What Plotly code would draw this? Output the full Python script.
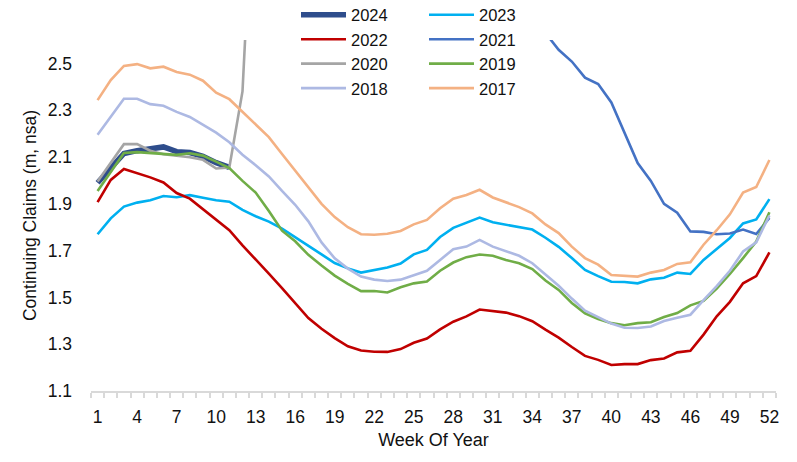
import plotly.graph_objects as go

weeks = list(range(1, 53))

claims_2024 = [1.99, 2.056, 2.115, 2.127, 2.134, 2.143, 2.123, 2.119, 2.103, 2.076, 2.056]

claims_2023 = [1.77, 1.838, 1.888, 1.905, 1.915, 1.933, 1.928, 1.937, 1.926, 1.915,
               1.909, 1.874, 1.847, 1.824, 1.794, 1.758, 1.723, 1.684, 1.647, 1.624,
               1.606, 1.616, 1.628, 1.645, 1.684, 1.703, 1.758, 1.797, 1.818, 1.841,
               1.821, 1.810, 1.801, 1.790, 1.755, 1.716, 1.668, 1.617, 1.591, 1.567,
               1.566, 1.560, 1.577, 1.584, 1.606, 1.600, 1.660, 1.706, 1.754, 1.816,
               1.833, 1.920]

claims_2022 = [1.907, 2.002, 2.049, 2.031, 2.013, 1.991, 1.946, 1.922, 1.878, 1.830,
               1.787, 1.722, 1.663, 1.602, 1.540, 1.478, 1.412, 1.366, 1.326, 1.291,
               1.273, 1.268, 1.267, 1.279, 1.306, 1.324, 1.363, 1.396, 1.419, 1.448,
               1.442, 1.435, 1.420, 1.398, 1.362, 1.328, 1.288, 1.250, 1.233, 1.211,
               1.215, 1.215, 1.232, 1.239, 1.265, 1.272, 1.341, 1.419, 1.481, 1.560,
               1.591, 1.692]

# 2021 is above the plotted range until late summer
claims_2021 = [None] * 33 + [2.72, 2.63, 2.558, 2.508, 2.439, 2.412, 2.333, 2.206,
                             2.074, 1.998, 1.900, 1.862, 1.782, 1.780, 1.770, 1.773,
                             1.790, 1.771, 1.840]

# 2020 leaves the plotted range after week 12
claims_2020 = [1.995, 2.077, 2.155, 2.155, 2.127, 2.112, 2.106, 2.099, 2.088, 2.051,
               2.055, 2.380, 3.500]

claims_2019 = [1.955, 2.034, 2.117, 2.121, 2.117, 2.112, 2.109, 2.116, 2.106, 2.080,
               2.053, 1.998, 1.948, 1.869, 1.785, 1.740, 1.682, 1.636, 1.593, 1.558,
               1.527, 1.527, 1.521, 1.543, 1.560, 1.568, 1.614, 1.649, 1.672, 1.683,
               1.678, 1.660, 1.646, 1.621, 1.572, 1.532, 1.476, 1.432, 1.408, 1.390,
               1.381, 1.390, 1.394, 1.416, 1.433, 1.466, 1.485, 1.538, 1.600, 1.668,
               1.739, 1.864]

claims_2018 = [2.195, 2.271, 2.349, 2.349, 2.326, 2.319, 2.293, 2.271, 2.238, 2.204,
               2.163, 2.110, 2.065, 2.017, 1.955, 1.896, 1.825, 1.735, 1.667, 1.623,
               1.589, 1.576, 1.570, 1.576, 1.595, 1.614, 1.660, 1.706, 1.717, 1.746,
               1.717, 1.696, 1.678, 1.646, 1.600, 1.550, 1.495, 1.443, 1.416, 1.388,
               1.370, 1.369, 1.376, 1.399, 1.413, 1.426, 1.488, 1.548, 1.614, 1.696,
               1.735, 1.850]

claims_2017 = [2.343, 2.429, 2.489, 2.497, 2.479, 2.486, 2.463, 2.452, 2.426, 2.375,
               2.347, 2.292, 2.240, 2.185, 2.113, 2.041, 1.970, 1.900, 1.843, 1.800,
               1.770, 1.768, 1.772, 1.784, 1.812, 1.831, 1.881, 1.922, 1.938, 1.960,
               1.927, 1.905, 1.886, 1.859, 1.812, 1.775, 1.717, 1.668, 1.640, 1.596,
               1.594, 1.589, 1.606, 1.617, 1.643, 1.650, 1.725, 1.787, 1.855, 1.948,
               1.972, 2.087]

y_ticks = [1.1, 1.3, 1.5, 1.7, 1.9, 2.1, 2.3, 2.5]
x_ticks = list(range(1, 53, 3))
# tick marks sit between the weekly categories
x_gap_ticks = [w - 0.5 for w in range(1, 54)]

series = [
    ("2024", claims_2024, "#2E4D8C", 5.5, "legend"),
    ("2023", claims_2023, "#00B0F0", 2.6, "legend2"),
    ("2022", claims_2022, "#C00000", 2.6, "legend"),
    ("2021", claims_2021, "#4472C4", 2.6, "legend2"),
    ("2020", claims_2020, "#A5A5A5", 2.6, "legend"),
    ("2019", claims_2019, "#70AD47", 2.6, "legend2"),
    ("2018", claims_2018, "#ADB9E3", 2.6, "legend"),
    ("2017", claims_2017, "#F4B183", 2.6, "legend2"),
]

FONT = "Liberation Sans, Arial, sans-serif"
TEXT = "#111111"

# plot area in pixels
L, R, T, B = 91, 21, 40, 71
W, H = 797, 462
PW, PH = W - L - R, H - T - B


def px_to_paper_x(px):
    return (px - L) / PW


def px_to_paper_y(py):
    return (H - B - py) / PH


fig = go.Figure()
for name, vals, color, width, leg in series:
    fig.add_trace(go.Scatter(
        x=weeks[:len(vals)], y=vals, name=name, mode="lines",
        line=dict(color=color, width=width),
        legend=leg, connectgaps=False, hoverinfo="skip",
    ))

legend_common = dict(
    orientation="v", xanchor="left", yanchor="top",
    font=dict(family=FONT, size=16.5, color=TEXT),
    bgcolor="rgba(0,0,0,0)", borderwidth=0, itemwidth=45,
    tracegroupgap=0, traceorder="normal",
)

fig.update_layout(
    width=W, height=H,
    margin=dict(l=L, r=R, t=T, b=B, autoexpand=False),
    paper_bgcolor="white", plot_bgcolor="white",
    font=dict(family=FONT, size=17.5, color=TEXT),
    showlegend=True,
    legend=dict(x=px_to_paper_x(296), y=px_to_paper_y(-2.5), **legend_common),
    legend2=dict(x=px_to_paper_x(424), y=px_to_paper_y(-2.5), **legend_common),
    xaxis=dict(
        range=[0.5, 52.5], tickmode="array", tickvals=x_ticks,
        ticktext=[str(v) for v in x_ticks], ticks="",
        showline=True, linecolor="#D9D9D9", linewidth=1.5,
        showgrid=False, zeroline=False,
        minor=dict(tickmode="array", tickvals=x_gap_ticks, ticks="outside",
                   ticklen=5, tickcolor="#D9D9D9", tickwidth=1.5, showgrid=False),
        tickfont=dict(family=FONT, size=17.5, color=TEXT),
        ticklabelstandoff=9,
        title=dict(text="Week Of Year", font=dict(family=FONT, size=18, color=TEXT),
                   standoff=8),
    ),
    yaxis=dict(
        range=[1.1, 2.6], tickmode="array", tickvals=y_ticks,
        ticktext=[f"{v:.1f}" for v in y_ticks], ticks="",
        showline=False, showgrid=False, zeroline=False,
        tickfont=dict(family=FONT, size=17.5, color=TEXT),
        ticklabelstandoff=18,
        title=dict(text="Continuing Claims (m, nsa)",
                   font=dict(family=FONT, size=17.5, color=TEXT), standoff=6),
    ),
)

fig.write_html("out.html")
